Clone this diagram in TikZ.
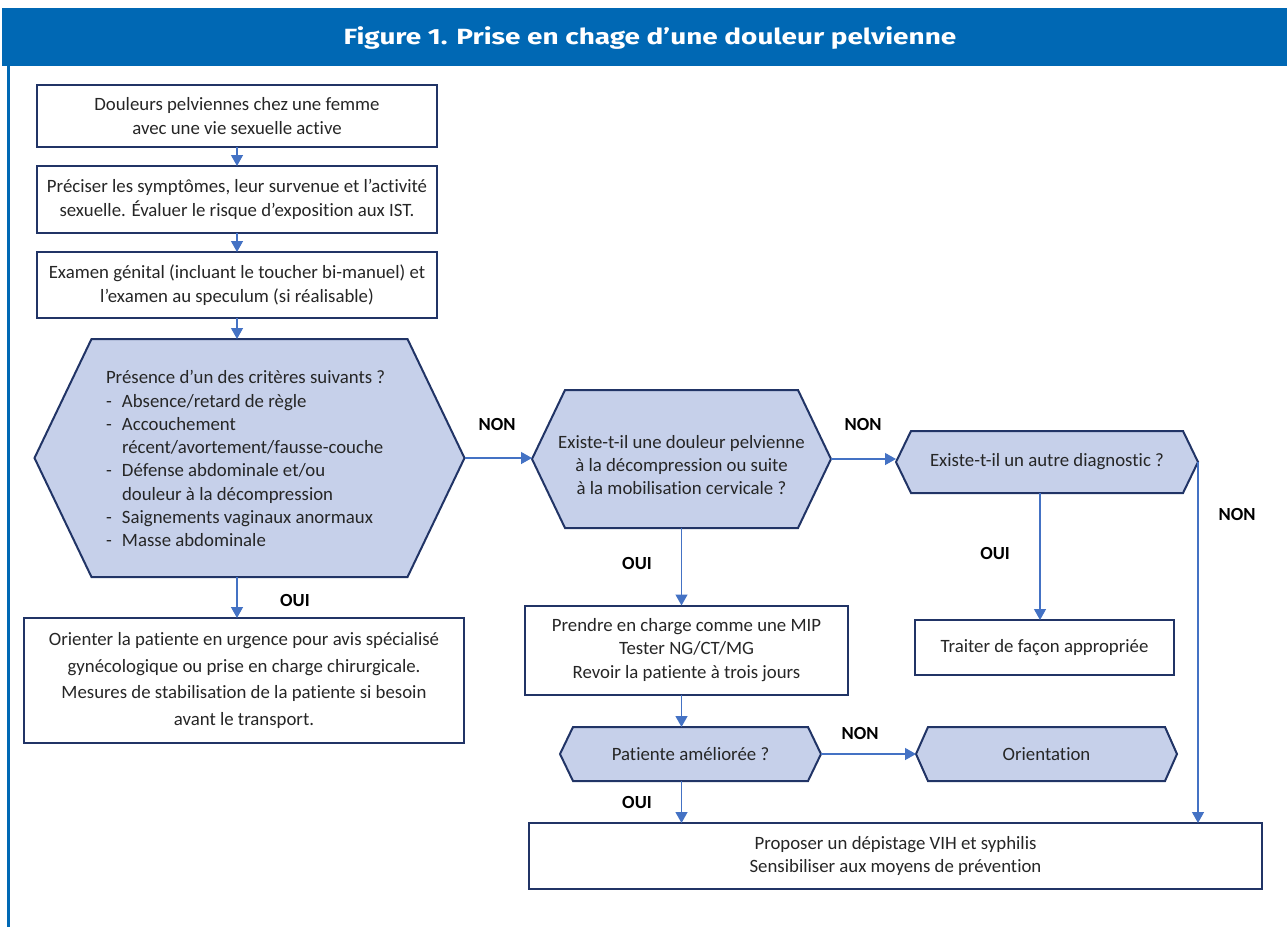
\documentclass[tikz,border=0pt]{standalone}
\usepackage{fontspec}
\setmainfont{Carlito}[Ligatures=NoCommon]
\newfontfamily\titlefont{Fira Sans}
\usetikzlibrary{arrows.meta,backgrounds}
\definecolor{headerblue}{RGB}{0,104,180}
\definecolor{navy}{RGB}{33,52,102}
\definecolor{hexfill}{RGB}{198,208,234}
\definecolor{linkblue}{RGB}{68,114,196}

% filled hexagon drawn around a rectangular node; #2 = horizontal bevel
\newcommand\hexshape[2]{%
  \draw[hexline] (#1.west) -- ([xshift=#2]#1.north west) -- ([xshift=-#2]#1.north east)
    -- (#1.east) -- ([xshift=-#2]#1.south east) -- ([xshift=#2]#1.south west) -- cycle;}

\begin{document}
\begin{tikzpicture}[x=1pt,y=-1pt,
  every node/.style={inner sep=0pt,outer sep=0pt,font=\fontsize{18.8}{23.3}\selectfont,text=black!85},
  box/.style={draw=navy,line width=2pt,fill=white,align=center},
  hexnode/.style={align=center},
  hexline/.style={draw=navy,line width=2pt,fill=hexfill,line join=miter},
  conn/.style={draw=linkblue,line width=1.3pt,-{Triangle[length=11pt,width=12pt]}},
  lbl/.style={font=\fontsize{18.5}{22}\selectfont\bfseries,text=black}
]
\useasboundingbox (0,0) rectangle (1287,927);

% frame
\fill[headerblue] (2,8) rectangle (1287,66);
\draw[headerblue,line width=3pt] (8,66) -- (8,927);
\node[font=\titlefont\bfseries\fontsize{22}{26}\selectfont,text=white] (title) at (650,38)
  {\scalebox{1.27}[1]{Figure 1. Prise en chage d’une douleur pelvienne}};

% left column
\node[box,minimum width=400pt,minimum height=62pt] (b1) at (237,116)
  {Douleurs pelviennes chez une femme\\avec une vie sexuelle active};
\node[box,minimum width=400pt,minimum height=67pt] (b2) at (237,199.5)
  {Préciser les symptômes, leur survenue et l’activité\\sexuelle. Évaluer le risque d’exposition aux IST.};
\node[box,minimum width=400pt,minimum height=66pt] (b3) at (237,285)
  {Examen génital (incluant le toucher bi-manuel) et\\l’examen au speculum (si réalisable)};

\node[minimum width=430pt,minimum height=238pt] (h1) at (249.5,458) {};
\node[anchor=north west,align=left] (h1t) at (106,370.5)
  {Présence d’un des critères suivants ?\\
   \makebox[16pt][l]{-}Absence/retard de règle\\
   \makebox[16pt][l]{-}Accouchement\\
   \hspace*{16pt}récent/avortement/fausse-couche\\
   \makebox[16pt][l]{-}Défense abdominale et/ou\\
   \hspace*{16pt}douleur à la décompression\\
   \makebox[16pt][l]{-}Saignements vaginaux anormaux\\
   \makebox[16pt][l]{-}Masse abdominale};

\node[box,minimum width=440pt,minimum height=125pt,font=\fontsize{18.8}{26.8}\selectfont] (urg) at (244,680.5)
  {Orienter la patiente en urgence pour avis spécialisé\\gynécologique ou prise en charge chirurgicale.\\
   Mesures de stabilisation de la patiente si besoin\\avant le transport.};

% middle column
\node[minimum width=299pt,minimum height=138pt] (h2) at (681.5,459) {};
\node[align=center] (h2t) at (681.5,465)
  {Existe-t-il une douleur pelvienne\\à la décompression ou suite\\à la mobilisation cervicale ?};

\node[box,minimum width=323pt,minimum height=89pt] (mip) at (686.5,650)
  {Prendre en charge comme une MIP\\Tester NG/CT/MG\\Revoir la patiente à trois jours};

\node[hexnode,minimum width=261pt,minimum height=54pt] (hp) at (690.5,754) {Patiente améliorée ?};
\node[hexnode,minimum width=261pt,minimum height=54pt] (ho) at (1046.5,754) {Orientation};

\node[box,minimum width=733pt,minimum height=66pt] (prop) at (895.5,856)
  {Proposer un dépistage VIH et syphilis\\Sensibiliser aux moyens de prévention};

% right column
\node[hexnode,minimum width=302pt,minimum height=62pt] (h3) at (1047,462) {Existe-t-il un autre diagnostic ?};
\node[box,minimum width=259pt,minimum height=55pt] (trait) at (1044.5,647.5) {Traiter de façon appropriée};

% hexagon outlines behind their texts
\begin{scope}[on background layer]
  \hexshape{h1}{57pt}
  \hexshape{h2}{33pt}
  \hexshape{h3}{15pt}
  \hexshape{hp}{13pt}
  \hexshape{ho}{12pt}
\end{scope}

% connectors
\draw[conn] (b1.south) -- (b2.north);
\draw[conn] (b2.south) -- (b3.north);
\draw[conn] (b3.south) -- (b3.south |- h1.north);
\draw[conn] (b3.south |- h1.south) -- (b3.south |- urg.north);
\draw[conn] (h1.east) -- (h1.east -| h2.west);
\draw[conn] (h2.south) -- (h2.south |- mip.north);
\draw[conn] (h2.south |- mip.south) -- (h2.south |- hp.north);
\draw[conn] (hp.east) -- (ho.west);
\draw[conn] (h2.south |- hp.south) -- (h2.south |- prop.north);
\draw[conn] (h2.east) -- (h2.east -| h3.west);
\draw[conn] ([xshift=-7pt]h3.south) -- ([xshift=-7pt]h3.south |- trait.north);
\draw[conn] (h3.east) -- (h3.east |- prop.north);

% branch labels
\node[lbl] (l1) at (295,600) {OUI};
\node[lbl] (l2) at (497,424) {NON};
\node[lbl] (l3) at (637,563) {OUI};
\node[lbl] (l4) at (863,424) {NON};
\node[lbl] (l5) at (995,553) {OUI};
\node[lbl] (l6) at (1237,514) {NON};
\node[lbl] (l7) at (860,733) {NON};
\node[lbl] (l8) at (637,802) {OUI};
\end{tikzpicture}
\end{document}
